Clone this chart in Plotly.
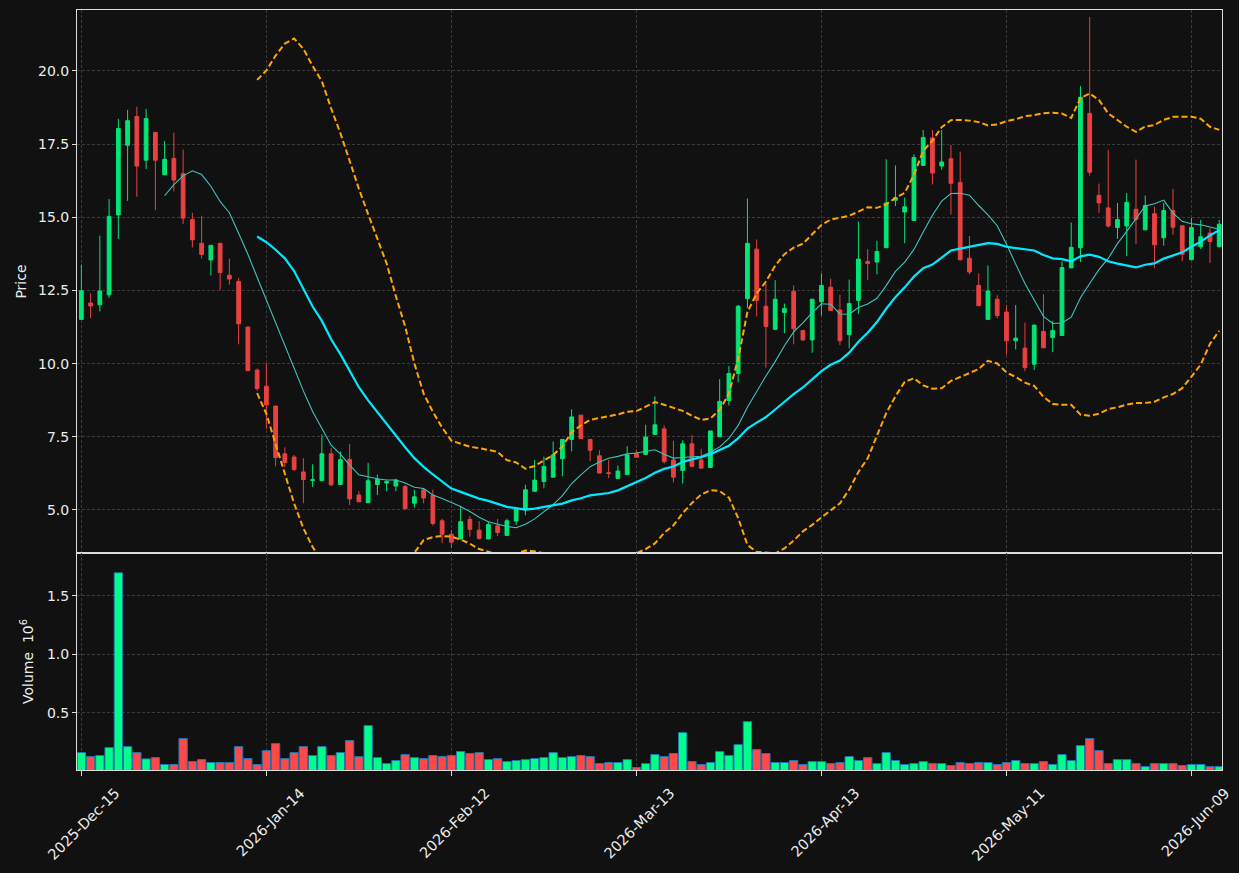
import pandas as pd
import plotly.graph_objects as go
from plotly.subplots import make_subplots

# ---------------- data ----------------
HOLIDAYS = ['2025-12-25', '2026-01-01', '2026-01-19', '2026-02-16', '2026-04-03', '2026-05-25']
N_DAYS = 124
DATES = pd.bdate_range('2025-12-15', periods=N_DAYS, freq='C', holidays=HOLIDAYS)
DATE_LABELS = [d.strftime('%Y-%b-%d') for d in DATES]

OPEN = [11.51, 12.07, 12.01, 12.35, 15.08, 17.46, 18.44, 16.95, 17.90, 16.45,
        17.01, 16.49, 14.92, 14.11, 13.54, 14.11, 13.02, 12.81, 11.25, 9.78,
        9.23, 8.55, 6.92, 6.81, 6.30, 6.01, 6.00, 6.92, 5.87, 6.72,
        5.51, 5.25, 5.87, 5.92, 5.82, 5.80, 5.23, 5.69, 5.50, 4.63,
        4.17, 4.01, 4.68, 4.31, 4.01, 4.46, 4.13, 4.62, 5.00, 5.64,
        5.97, 6.12, 6.75, 7.41, 8.24, 7.41, 6.85, 6.27, 6.08, 6.21,
        6.94, 6.90, 7.58, 7.77, 6.71, 6.35, 7.26, 6.71, 6.45, 7.50,
        8.74, 9.66, 12.22, 13.91, 11.96, 11.17, 11.75, 12.47, 11.13, 10.81,
        12.11, 12.61, 11.83, 10.99, 12.16, 13.49, 13.47, 13.96, 15.58, 15.18,
        14.89, 16.77, 17.71, 16.75, 17.00, 16.19, 13.60, 12.67, 11.51, 12.20,
        11.76, 10.78, 10.53, 9.98, 11.10, 10.89, 10.96, 13.27, 13.96, 18.55,
        15.75, 15.32, 14.65, 14.70, 15.27, 14.57, 15.12, 14.30, 15.23, 14.71,
        13.55, 13.99, 14.46, 13.99]
HIGH = [13.38, 12.40, 14.37, 15.62, 18.36, 18.67, 18.77, 18.70, 17.90, 17.61,
        17.89, 17.31, 15.15, 15.05, 14.04, 14.11, 13.59, 12.93, 11.25, 9.83,
        10.01, 8.55, 7.14, 6.88, 6.77, 6.56, 7.58, 7.11, 7.00, 7.25,
        5.64, 6.61, 6.21, 6.02, 6.07, 5.86, 5.69, 5.73, 5.70, 4.70,
        4.32, 5.11, 4.79, 4.62, 4.60, 4.69, 4.70, 5.05, 5.86, 6.71,
        6.82, 7.34, 7.41, 8.44, 8.24, 7.41, 7.04, 6.71, 6.52, 7.18,
        7.06, 7.91, 8.88, 7.89, 7.36, 7.38, 7.56, 7.08, 7.70, 9.47,
        9.92, 12.00, 15.64, 14.24, 12.73, 12.85, 12.05, 12.67, 11.13, 12.20,
        13.08, 12.90, 12.35, 12.87, 14.85, 13.91, 14.20, 16.98, 16.77, 15.67,
        17.15, 17.98, 17.98, 17.98, 17.47, 17.24, 14.36, 13.08, 13.35, 12.34,
        12.00, 12.00, 11.40, 11.35, 12.37, 11.46, 13.49, 14.82, 19.48, 21.84,
        16.15, 17.30, 15.49, 15.83, 16.97, 15.74, 15.36, 15.49, 15.97, 14.71,
        14.97, 14.91, 14.62, 14.91]
LOW = [11.50, 11.55, 11.78, 12.25, 14.26, 15.56, 15.70, 16.65, 15.24, 16.45,
       15.88, 14.77, 13.97, 13.59, 13.01, 12.51, 12.70, 10.66, 9.76, 9.07,
       7.77, 6.49, 6.47, 6.33, 5.23, 5.79, 6.00, 5.81, 5.87, 5.17,
       5.28, 5.25, 5.51, 5.64, 5.64, 5.00, 5.08, 5.23, 4.46, 3.87,
       3.70, 3.99, 4.09, 3.99, 4.01, 4.11, 4.11, 4.49, 4.82, 5.61,
       5.74, 6.12, 6.15, 7.00, 7.44, 6.67, 6.26, 6.09, 6.08, 6.21,
       6.80, 6.87, 7.58, 6.59, 5.94, 5.90, 6.47, 6.41, 6.45, 7.50,
       8.57, 9.36, 11.90, 11.61, 9.86, 11.17, 11.04, 10.66, 10.78, 10.37,
       11.64, 11.81, 10.63, 10.52, 11.70, 12.85, 13.05, 13.96, 15.38, 14.11,
       14.89, 16.77, 16.12, 16.62, 15.09, 13.52, 13.05, 11.96, 11.51, 11.55,
       10.31, 10.48, 9.74, 9.78, 10.54, 10.39, 10.96, 13.27, 13.47, 16.42,
       15.15, 14.65, 14.26, 13.67, 14.08, 14.57, 13.26, 14.03, 14.40, 13.49,
       13.55, 13.91, 13.44, 13.99]
CLOSE = [12.49, 11.97, 12.48, 15.03, 18.03, 18.30, 16.75, 18.37, 16.95, 16.98,
         16.27, 14.97, 14.23, 13.73, 14.04, 13.11, 12.89, 11.36, 9.76, 9.15,
         8.59, 6.79, 6.62, 6.38, 6.04, 6.03, 6.92, 5.86, 6.72, 5.38,
         5.28, 6.00, 6.04, 5.97, 6.02, 5.05, 5.45, 5.41, 4.54, 4.17,
         3.90, 4.60, 4.34, 4.03, 4.50, 4.23, 4.63, 5.01, 5.69, 6.02,
         6.49, 6.88, 7.41, 8.18, 7.44, 7.04, 6.26, 6.25, 6.33, 6.88,
         6.80, 7.49, 7.91, 6.65, 6.12, 7.26, 6.49, 6.43, 7.70, 8.71,
         9.66, 11.96, 14.11, 12.16, 11.27, 12.20, 11.88, 11.19, 10.81, 12.20,
         12.67, 11.81, 10.78, 12.05, 13.57, 13.42, 13.83, 15.49, 15.67, 15.36,
         17.04, 17.72, 16.51, 16.89, 16.16, 13.55, 13.13, 11.98, 12.48, 11.64,
         10.78, 10.87, 9.86, 11.31, 10.54, 11.13, 13.28, 13.97, 19.10, 16.54,
         15.49, 14.70, 14.92, 15.51, 14.92, 15.40, 14.06, 15.23, 14.66, 13.73,
         14.65, 14.33, 14.17, 14.76]
VOLUME_M = [0.158, 0.124, 0.133, 0.201, 1.697, 0.209, 0.158, 0.104, 0.115, 0.056,
            0.056, 0.278, 0.081, 0.098, 0.073, 0.073, 0.073, 0.209, 0.107, 0.056,
            0.175, 0.235, 0.107, 0.158, 0.209, 0.133, 0.209, 0.133, 0.158, 0.261,
            0.124, 0.389, 0.115, 0.064, 0.090, 0.141, 0.115, 0.107, 0.133, 0.124,
            0.133, 0.167, 0.150, 0.158, 0.098, 0.107, 0.081, 0.090, 0.098, 0.107,
            0.115, 0.158, 0.115, 0.124, 0.133, 0.124, 0.064, 0.073, 0.073, 0.098,
            0.030, 0.064, 0.141, 0.124, 0.150, 0.329, 0.081, 0.056, 0.073, 0.167,
            0.133, 0.226, 0.423, 0.184, 0.150, 0.073, 0.073, 0.090, 0.056, 0.081,
            0.081, 0.064, 0.073, 0.124, 0.090, 0.115, 0.064, 0.158, 0.090, 0.056,
            0.064, 0.081, 0.064, 0.064, 0.047, 0.073, 0.064, 0.073, 0.073, 0.056,
            0.073, 0.090, 0.064, 0.064, 0.081, 0.056, 0.141, 0.090, 0.218, 0.278,
            0.175, 0.064, 0.098, 0.098, 0.064, 0.038, 0.064, 0.064, 0.064, 0.047,
            0.056, 0.056, 0.038, 0.038]

TICK_STEP = 20
SMA_SHORT, SMA_LONG, BB_K = 10, 20, 2

# ---------------- derived indicators ----------------
close_s = pd.Series(CLOSE)
sma10 = close_s.rolling(SMA_SHORT).mean()
sma20 = close_s.rolling(SMA_LONG).mean()
std20 = close_s.rolling(SMA_LONG).std(ddof=0)
bb_up = sma20 + BB_K * std20
bb_dn = sma20 - BB_K * std20

# ---------------- styling ----------------
BG = '#111111'
UP_C, DN_C = '#00e676', '#e84142'
VUP_C, VDN_C = '#00ff88', '#ff4848'
GRID_C = '#3a3a3a'
TXT_C = '#ececec'
LINE_C = '#dddddd'
FONT = 'DejaVu Sans'

x = list(range(N_DAYS))
tickvals = x[::TICK_STEP]
ticktext = DATE_LABELS[::TICK_STEP]

fig = make_subplots(rows=2, cols=1, shared_xaxes=True, vertical_spacing=0,
                    row_heights=[543, 217])

fig.add_trace(go.Candlestick(
    x=x, open=OPEN, high=HIGH, low=LOW, close=CLOSE,
    increasing=dict(line=dict(color=UP_C, width=1), fillcolor=UP_C),
    decreasing=dict(line=dict(color=DN_C, width=1), fillcolor=DN_C),
    whiskerwidth=0, hoverinfo='skip', showlegend=False), row=1, col=1)

fig.add_trace(go.Scatter(x=x, y=sma10, mode='lines',
                         line=dict(color='#3fc4bb', width=1.1),
                         showlegend=False, hoverinfo='skip'), row=1, col=1)
fig.add_trace(go.Scatter(x=x, y=sma20, mode='lines',
                         line=dict(color='#00eaff', width=2.2),
                         showlegend=False, hoverinfo='skip'), row=1, col=1)
for band in (bb_up, bb_dn):
    fig.add_trace(go.Scatter(x=x, y=band, mode='lines',
                             line=dict(color='#ffa500', width=2, dash='6px,3px'),
                             showlegend=False, hoverinfo='skip'), row=1, col=1)

vol_colors = [VUP_C if c >= o else VDN_C for o, c in zip(OPEN, CLOSE)]
fig.add_trace(go.Bar(x=x, y=VOLUME_M, marker=dict(color=vol_colors,
                                                  line=dict(color='#1f77b4', width=1)),
                     showlegend=False, hoverinfo='skip'), row=2, col=1)

axis_common = dict(showgrid=True, gridcolor=GRID_C, griddash='3px,2px', gridwidth=1,
                   showline=True, mirror=True, linecolor=LINE_C, linewidth=1,
                   zeroline=False, tickfont=dict(family=FONT, size=14, color=TXT_C),
                   tickcolor=LINE_C, automargin=False)

x_range = [-0.47, 123.3]
fig.update_xaxes(**axis_common, range=x_range, tickmode='array', tickvals=tickvals,
                 ticktext=ticktext, rangeslider_visible=False)
fig.update_xaxes(showticklabels=False, ticks='', row=1, col=1)
fig.update_xaxes(ticks='outside', ticklen=5, tickangle=-45, ticklabelshift=34,
                 ticklabelstandoff=3, tickfont=dict(family=FONT, size=14.5, color=TXT_C),
                 row=2, col=1)

fig.update_yaxes(**axis_common, ticks='outside', ticklen=4)
fig.update_yaxes(range=[3.53, 22.08], tickmode='array',
                 tickvals=[5.0, 7.5, 10.0, 12.5, 15.0, 17.5, 20.0], tickformat='.1f',
                 title=dict(text='Price', font=dict(family=FONT, size=14, color=TXT_C),
                            standoff=8),
                 row=1, col=1)
fig.update_yaxes(range=[0.3 * min(VOLUME_M), 1.1 * max(VOLUME_M)], tickmode='array',
                 tickvals=[0.5, 1.0, 1.5], tickformat='.1f',
                 title=dict(text='Volume  10<sup>6</sup>',
                            font=dict(family=FONT, size=14, color=TXT_C), standoff=10),
                 row=2, col=1)

fig.update_layout(width=1239, height=873, paper_bgcolor=BG, plot_bgcolor=BG,
                  margin=dict(l=77, r=17, t=10, b=103), boxgap=0.42, bargap=0.1,
                  font=dict(family=FONT, color=TXT_C), showlegend=False)

fig.write_html('out.html')
